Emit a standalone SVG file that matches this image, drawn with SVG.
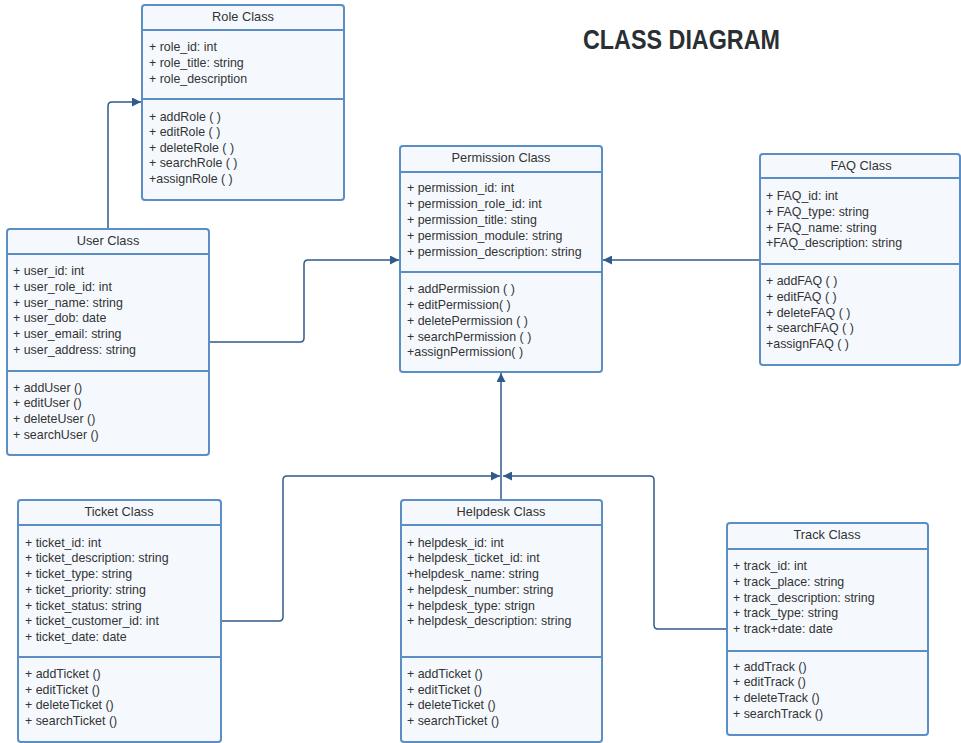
<svg xmlns="http://www.w3.org/2000/svg" width="961" height="743" viewBox="0 0 961 743">
<defs>
<style>
.box{fill:#f5f9fe;stroke:#5b8ec4;stroke-width:2}
.sep{stroke:#5b8ec4;stroke-width:2}
.t{font-family:"Liberation Sans",Arial,sans-serif;font-size:12.4px;fill:#333}
.h{font-family:"Liberation Sans",Arial,sans-serif;font-size:12.8px;fill:#333;text-anchor:middle}
.c{fill:none;stroke:#2f5a8a;stroke-width:1.5}
.title{font-family:"Liberation Sans",Arial,sans-serif;font-weight:bold;font-size:28px;fill:#2a2f33}
</style>
<marker id="arr" viewBox="0 0 10 10" refX="10" refY="5" markerWidth="9" markerHeight="9" markerUnits="userSpaceOnUse" orient="auto">
<path d="M0,0 L10,5 L0,10 z" fill="#2f5a8a"/>
</marker>
</defs>
<rect width="961" height="743" fill="#ffffff"/>
<text class="title" x="583" y="49" textLength="197" lengthAdjust="spacingAndGlyphs">CLASS DIAGRAM</text>

<g id="connectors">
<path class="c" d="M108,229 V106 Q108,102 112,102 H141" marker-end="url(#arr)"/>
<path class="c" d="M209,342 H300 Q304,342 304,338 V264 Q304,260 308,260 H399" marker-end="url(#arr)"/>
<path class="c" d="M760,260 H603" marker-end="url(#arr)"/>
<path class="c" d="M501,500 V373" marker-end="url(#arr)"/>
<path class="c" d="M221,621 H279 Q283,621 283,617 V480 Q283,476 287,476 H500" marker-end="url(#arr)"/>
<path class="c" d="M727,629 H658 Q654,629 654,625 V480 Q654,476 650,476 H503" marker-end="url(#arr)"/>
</g>

<g id="role">
<rect class="box" x="142" y="5" width="202" height="195" rx="3"/>
<line class="sep" x1="142" y1="30" x2="344" y2="30"/>
<line class="sep" x1="142" y1="99" x2="344" y2="99"/>
<text class="h" x="243" y="21">Role Class</text>
<text class="t" x="149" y="51">+ role_id: int</text>
<text class="t" x="149" y="67">+ role_title: string</text>
<text class="t" x="149" y="83">+ role_description</text>
<text class="t" x="149" y="121">+ addRole ( )</text>
<text class="t" x="149" y="136">+ editRole ( )</text>
<text class="t" x="149" y="152">+ deleteRole ( )</text>
<text class="t" x="149" y="167">+ searchRole ( )</text>
<text class="t" x="149" y="183">+assignRole ( )</text>
</g>

<g id="permission">
<rect class="box" x="400" y="146" width="202" height="226" rx="3"/>
<line class="sep" x1="400" y1="172" x2="602" y2="172"/>
<line class="sep" x1="400" y1="272" x2="602" y2="272"/>
<text class="h" x="501" y="162">Permission Class</text>
<text class="t" x="407" y="192">+ permission_id: int</text>
<text class="t" x="407" y="208">+ permission_role_id: int</text>
<text class="t" x="407" y="224">+ permission_title: sting</text>
<text class="t" x="407" y="240">+ permission_module: string</text>
<text class="t" x="407" y="256">+ permission_description: string</text>
<text class="t" x="407" y="293">+ addPermission ( )</text>
<text class="t" x="407" y="309">+ editPermission( )</text>
<text class="t" x="407" y="325">+ deletePermission ( )</text>
<text class="t" x="407" y="341">+ searchPermission ( )</text>
<text class="t" x="407" y="356">+assignPermission( )</text>
</g>

<g id="faq">
<rect class="box" x="760" y="154" width="200" height="211" rx="3"/>
<line class="sep" x1="760" y1="178" x2="960" y2="178"/>
<line class="sep" x1="760" y1="264" x2="960" y2="264"/>
<text class="h" x="861" y="170">FAQ Class</text>
<text class="t" x="766" y="200">+ FAQ_id: int</text>
<text class="t" x="766" y="216">+ FAQ_type: string</text>
<text class="t" x="766" y="232">+ FAQ_name: string</text>
<text class="t" x="766" y="247">+FAQ_description: string</text>
<text class="t" x="766" y="285">+ addFAQ ( )</text>
<text class="t" x="766" y="301">+ editFAQ ( )</text>
<text class="t" x="766" y="317">+ deleteFAQ ( )</text>
<text class="t" x="766" y="332">+ searchFAQ ( )</text>
<text class="t" x="766" y="348">+assignFAQ ( )</text>
</g>

<g id="user">
<rect class="box" x="7" y="229" width="202" height="226" rx="3"/>
<line class="sep" x1="7" y1="254" x2="209" y2="254"/>
<line class="sep" x1="7" y1="371" x2="209" y2="371"/>
<text class="h" x="108" y="245">User Class</text>
<text class="t" x="13" y="275">+ user_id: int</text>
<text class="t" x="13" y="291">+ user_role_id: int</text>
<text class="t" x="13" y="307">+ user_name: string</text>
<text class="t" x="13" y="322">+ user_dob: date</text>
<text class="t" x="13" y="338">+ user_email: string</text>
<text class="t" x="13" y="354">+ user_address: string</text>
<text class="t" x="13" y="392">+ addUser ()</text>
<text class="t" x="13" y="407">+ editUser ()</text>
<text class="t" x="13" y="423">+ deleteUser ()</text>
<text class="t" x="13" y="439">+ searchUser ()</text>
</g>

<g id="ticket">
<rect class="box" x="18" y="500" width="203" height="242" rx="3"/>
<line class="sep" x1="18" y1="525" x2="221" y2="525"/>
<line class="sep" x1="18" y1="657" x2="221" y2="657"/>
<text class="h" x="119" y="516">Ticket Class</text>
<text class="t" x="25" y="547">+ ticket_id: int</text>
<text class="t" x="25" y="562">+ ticket_description: string</text>
<text class="t" x="25" y="578">+ ticket_type: string</text>
<text class="t" x="25" y="594">+ ticket_priority: string</text>
<text class="t" x="25" y="610">+ ticket_status: string</text>
<text class="t" x="25" y="625">+ ticket_customer_id: int</text>
<text class="t" x="25" y="641">+ ticket_date: date</text>
<text class="t" x="25" y="678">+ addTicket ()</text>
<text class="t" x="25" y="694">+ editTicket ()</text>
<text class="t" x="25" y="709">+ deleteTicket ()</text>
<text class="t" x="25" y="725">+ searchTicket ()</text>
</g>

<g id="helpdesk">
<rect class="box" x="401" y="500" width="201" height="242" rx="3"/>
<line class="sep" x1="401" y1="525" x2="602" y2="525"/>
<line class="sep" x1="401" y1="657" x2="602" y2="657"/>
<text class="h" x="501" y="516">Helpdesk Class</text>
<text class="t" x="407" y="547">+ helpdesk_id: int</text>
<text class="t" x="407" y="562">+ helpdesk_ticket_id: int</text>
<text class="t" x="407" y="578">+helpdesk_name: string</text>
<text class="t" x="407" y="594">+ helpdesk_number: string</text>
<text class="t" x="407" y="610">+ helpdesk_type: strign</text>
<text class="t" x="407" y="625">+ helpdesk_description: string</text>
<text class="t" x="407" y="678">+ addTicket ()</text>
<text class="t" x="407" y="694">+ editTicket ()</text>
<text class="t" x="407" y="709">+ deleteTicket ()</text>
<text class="t" x="407" y="725">+ searchTicket ()</text>
</g>

<g id="track">
<rect class="box" x="727" y="523" width="201" height="212" rx="3"/>
<line class="sep" x1="727" y1="549" x2="928" y2="549"/>
<line class="sep" x1="727" y1="651" x2="928" y2="651"/>
<text class="h" x="827" y="539">Track Class</text>
<text class="t" x="733" y="570">+ track_id: int</text>
<text class="t" x="733" y="586">+ track_place: string</text>
<text class="t" x="733" y="602">+ track_description: string</text>
<text class="t" x="733" y="617">+ track_type: string</text>
<text class="t" x="733" y="633">+ track+date: date</text>
<text class="t" x="733" y="671">+ addTrack ()</text>
<text class="t" x="733" y="686">+ editTrack ()</text>
<text class="t" x="733" y="702">+ deleteTrack ()</text>
<text class="t" x="733" y="718">+ searchTrack ()</text>
</g>
</svg>
